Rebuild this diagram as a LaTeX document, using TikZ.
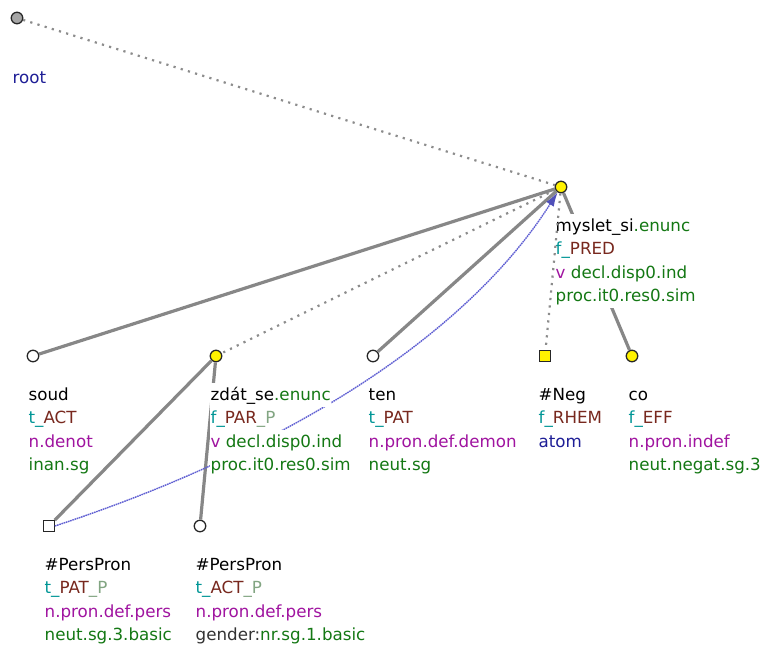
\documentclass[tikz,border=0pt]{standalone}
\usepackage{fontspec}
\setmainfont{DejaVu Sans}
\usetikzlibrary{arrows.meta}
\definecolor{cteal}{RGB}{0,150,150}
\definecolor{cbrown}{RGB}{120,40,30}
\definecolor{cpurple}{RGB}{160,20,160}
\definecolor{cgreen}{RGB}{20,120,20}
\definecolor{cpale}{RGB}{130,165,130}
\definecolor{cblue}{RGB}{30,30,150}
\definecolor{cedge}{RGB}{135,135,135}
\definecolor{cdot}{RGB}{140,140,140}
\definecolor{ccoref}{RGB}{95,95,210}
\definecolor{carrow}{RGB}{80,80,185}
\begin{document}
\begin{tikzpicture}[x=1pt,y=-1pt,
 tnode/.style={circle,draw=black!85,line width=1.3pt,minimum size=11.5pt,inner sep=0pt,fill=white},
 yel/.style={fill=yellow},
 sqnode/.style={rectangle,draw=black!85,line width=1.3pt,minimum size=10.5pt,inner sep=0pt,fill=white},
 lbl/.style={anchor=base west,inner xsep=0.5pt,inner ysep=0pt,text height=17pt,text depth=6.6pt,fill=white,font=\fontsize{16.7}{20}\selectfont},
 solidedge/.style={draw=cedge,line width=3.2pt},
 dotedge/.style={draw=cdot,line width=2.2pt,dash pattern=on 2.2pt off 5.3pt},
 coref/.style={draw=ccoref,line width=1.4pt,dash pattern=on 1.6pt off 0.7pt,-{Latex[length=14pt,width=9pt,color=carrow]}}
]
\useasboundingbox (0,0) rectangle (763,651);
% tree nodes
\node[tnode,fill=black!35] (root) at (17,18) {};
\node[tnode,yel] (myslet) at (561,187) {};
\node[tnode] (soud) at (33,356) {};
\node[tnode,yel] (zdat) at (216,356) {};
\node[tnode] (ten) at (373,356) {};
\node[sqnode,yel] (neg) at (545,356) {};
\node[tnode,yel] (co) at (632,356) {};
\node[sqnode] (pat) at (49,526) {};
\node[tnode] (act) at (200,526) {};
% edges (under labels)
\draw[dotedge] (root) -- (myslet);
\draw[solidedge] (myslet) -- (soud);
\draw[dotedge] (myslet) -- (zdat);
\draw[solidedge] (myslet) -- (ten);
\draw[solidedge] (myslet) -- (co);
\draw[solidedge] (zdat) -- (pat);
\draw[solidedge] (zdat) -- (act);
% coreference arrow (under labels)
\draw[coref] (pat.east) .. controls (300,445) and (470,330) .. (myslet);
% labels
\node[lbl] (lroot) at (12,83) {\color{cblue}root};
\node[lbl] (lm1) at (555,231) {myslet\_si\textcolor{cgreen}{.enunc}};
\node[lbl] (lm2) at (555,254.5) {\textcolor{cteal}{f\_}\textcolor{cbrown}{PRED}};
\node[lbl] (lm3) at (555,278) {\textcolor{cpurple}{v} \textcolor{cgreen}{decl.disp0.ind}};
\node[lbl] (lm4) at (555,301.5) {\textcolor{cgreen}{proc.it0.res0.sim}};
\node[lbl] (ls1) at (28,400) {soud};
\node[lbl] (ls2) at (28,423.5) {\textcolor{cteal}{t\_}\textcolor{cbrown}{ACT}};
\node[lbl] (ls3) at (28,447) {\textcolor{cpurple}{n.denot}};
\node[lbl] (ls4) at (28,470.5) {\textcolor{cgreen}{inan.sg}};
\node[lbl] (lz1) at (210,400) {zdát\_se\textcolor{cgreen}{.enunc}};
\node[lbl] (lz2) at (210,423.5) {\textcolor{cteal}{f\_}\textcolor{cbrown}{PAR}\textcolor{cpale}{\_P}};
\node[lbl] (lz3) at (210,447) {\textcolor{cpurple}{v} \textcolor{cgreen}{decl.disp0.ind}};
\node[lbl] (lz4) at (210,470.5) {\textcolor{cgreen}{proc.it0.res0.sim}};
\node[lbl] (lt1) at (368,400) {ten};
\node[lbl] (lt2) at (368,423.5) {\textcolor{cteal}{t\_}\textcolor{cbrown}{PAT}};
\node[lbl] (lt3) at (368,447) {\textcolor{cpurple}{n.pron.def.demon}};
\node[lbl] (lt4) at (368,470.5) {\textcolor{cgreen}{neut.sg}};
\node[lbl] (ln1) at (538,400) {\#Neg};
\node[lbl] (ln2) at (538,423.5) {\textcolor{cteal}{f\_}\textcolor{cbrown}{RHEM}};
\node[lbl] (ln3) at (538,447) {\textcolor{cblue}{atom}};
\node[lbl] (lc1) at (628,400) {co};
\node[lbl] (lc2) at (628,423.5) {\textcolor{cteal}{f\_}\textcolor{cbrown}{EFF}};
\node[lbl] (lc3) at (628,447) {\textcolor{cpurple}{n.pron.indef}};
\node[lbl] (lc4) at (628,470.5) {\textcolor{cgreen}{neut.negat.sg.3}};
\node[lbl] (lp1) at (44,570) {\#PersPron};
\node[lbl] (lp2) at (44,593.5) {\textcolor{cteal}{t\_}\textcolor{cbrown}{PAT}\textcolor{cpale}{\_P}};
\node[lbl] (lp3) at (44,617) {\textcolor{cpurple}{n.pron.def.pers}};
\node[lbl] (lp4) at (44,640.5) {\textcolor{cgreen}{neut.sg.3.basic}};
\node[lbl] (la1) at (195,570) {\#PersPron};
\node[lbl] (la2) at (195,593.5) {\textcolor{cteal}{t\_}\textcolor{cbrown}{ACT}\textcolor{cpale}{\_P}};
\node[lbl] (la3) at (195,617) {\textcolor{cpurple}{n.pron.def.pers}};
\node[lbl] (la4) at (195,640.5) {\textcolor{black!80}{gender:}\textcolor{cgreen}{nr.sg.1.basic}};
% dotted edge to #Neg, visible beside the labels
\draw[dotedge] (myslet) -- (neg);
\end{tikzpicture}
\end{document}
